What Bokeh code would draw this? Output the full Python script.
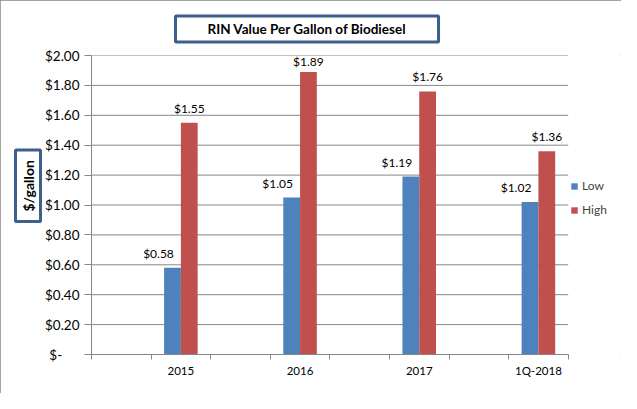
import numpy as np
from bokeh.plotting import figure
from bokeh.models import (FixedTicker, Legend, LegendItem, Title,
                          ColumnDataSource, Range1d)
from bokeh.core.properties import value
from bokeh.embed import file_html
from bokeh.resources import INLINE

# ---- data ----
categories = ["2015", "2016", "2017", "1Q-2018"]
low = [0.58, 1.05, 1.19, 1.02]
high = [1.55, 1.89, 1.76, 1.36]
y_ticks = [0.0, 0.2, 0.4, 0.6, 0.8, 1.0, 1.2, 1.4, 1.6, 1.8, 2.0]
y_tick_labels = ["$-" + "\u00a0" * 5, "$0.20", "$0.40", "$0.60", "$0.80", "$1.00",
                 "$1.20", "$1.40", "$1.60", "$1.80", "$2.00"]
title_text = "RIN Value Per Gallon of Biodiesel"
y_title = "$/gallon"

FONT = "Lato"
BLUE = "#4F81BD"
RED = "#C0504D"
GRID = "#868686"
BOXC = "#3C5F8C"

# ---- layout ----
W, H = 621, 393
FL, FR, FT, FB = 84, 567, 55, 354   # plot-area edges in figure px
Y_MAX = 2.0
n_slots = 2 * len(categories)
slot_px = (FR - FL) / n_slots
px_per_unit = (FB - FT) / Y_MAX
bar_w = 17 / slot_px
x_end = n_slots * (W - FL) / (FR - FL)   # frame runs to the right edge (legend area)

centers = [2 * i + 1.5 for i in range(len(categories))]
x_low = [c - bar_w / 2 for c in centers]
x_high = [c + bar_w / 2 for c in centers]


def label_offset(v):
    # keep the value label inside the plot area when the bar is near the top
    room = (Y_MAX - v) * px_per_unit - 13
    return -max(2.0, min(7.0, room))


src = ColumnDataSource(dict(
    x_low=x_low, x_high=x_high, low=low, high=high,
    low_off=[label_offset(v) for v in low], high_off=[label_offset(v) for v in high],
    low_txt=["$%.2f" % v for v in low], high_txt=["$%.2f" % v for v in high]))

p = figure(width=W, height=H, output_backend="svg", toolbar_location=None,
           x_range=Range1d(0, x_end), y_range=Range1d(0, Y_MAX),
           min_border_left=FL, min_border_right=0,
           min_border_top=FT, min_border_bottom=H - FB,
           background_fill_color="white", border_fill_color="white")
p.outline_line_color = None
p.styles = {"outline": "1px solid #868686", "outline-offset": "-1px"}

# horizontal gridlines limited to the plot area
p.xgrid.grid_line_color = None
p.ygrid.grid_line_color = None
p.segment(x0=[0] * len(y_ticks), x1=[n_slots] * len(y_ticks), y0=y_ticks, y1=y_ticks,
          line_color=GRID, line_width=1, level="underlay")

# y axis
p.yaxis.ticker = FixedTicker(ticks=y_ticks)
p.yaxis.major_label_overrides = {t: l for t, l in zip(y_ticks, y_tick_labels)}
p.yaxis.axis_line_color = GRID
p.yaxis.major_tick_line_color = GRID
p.yaxis.major_tick_out = 7
p.yaxis.major_tick_in = 0
p.yaxis.minor_tick_line_color = None
p.yaxis.major_label_standoff = 5
p.yaxis.major_label_text_font = FONT
p.yaxis.major_label_text_font_size = "13.5px"
p.yaxis.major_label_text_color = "black"

# x axis
p.xaxis.bounds = (0, n_slots)
p.xaxis.ticker = FixedTicker(ticks=centers, minor_ticks=list(range(n_slots + 1)))
p.xaxis.major_label_overrides = {c: l for c, l in zip(centers, categories)}
p.xaxis.axis_line_color = GRID
p.xaxis.major_tick_line_color = None
p.xaxis.major_tick_out = 0
p.xaxis.major_tick_in = 0
p.xaxis.minor_tick_line_color = GRID
p.xaxis.minor_tick_out = 5
p.xaxis.minor_tick_in = 0
p.xaxis.major_label_standoff = 4
p.xaxis.major_label_text_font = FONT
p.xaxis.major_label_text_font_size = "11.5px"
p.xaxis.major_label_text_color = "black"

# bars
r_low = p.vbar(x="x_low", top="low", width=bar_w, bottom=0, source=src,
               fill_color=BLUE, line_color=None)
r_high = p.vbar(x="x_high", top="high", width=bar_w, bottom=0, source=src,
                fill_color=RED, line_color=None)

# value labels
p.text(x="x_low", y="low", text="low_txt", source=src, x_offset=-14, y_offset="low_off",
       text_align="center", text_baseline="bottom", text_font=value(FONT),
       text_font_size="12px", text_color="black")
p.text(x="x_high", y="high", text="high_txt", source=src, y_offset="high_off",
       text_align="center", text_baseline="bottom", text_font=value(FONT),
       text_font_size="12px", text_color="black")

# legend (inside the frame's right-hand strip)
legend = Legend(items=[LegendItem(label="Low", renderers=[r_low]),
                       LegendItem(label="High", renderers=[r_high])],
                location=(FR - FL - 4, FB - 219.5), orientation="vertical",
                glyph_width=8, glyph_height=8, label_standoff=4, spacing=4,
                label_height=20, padding=0, margin=0,
                border_line_color=None, background_fill_alpha=0,
                label_text_font=FONT, label_text_font_size="12px")
p.add_layout(legend, "center")

# title box
p.add_layout(Title(text=title_text, align="left", offset=84, standoff=27,
                   text_font=FONT, text_font_style="bold", text_font_size="13.5px",
                   text_color="black",
                   border_line_color=BOXC, border_line_width=3,
                   background_fill_color="white",
                   padding=dict(left=32, right=32, top=5, bottom=5)), "above")

# y title box
p.add_layout(Title(text=y_title, align="left", offset=133, standoff=2,
                   text_font=FONT, text_font_style="bold", text_font_size="14px",
                   text_color="black",
                   border_line_color=BOXC, border_line_width=3,
                   background_fill_color="white",
                   padding=dict(left=10, right=10, top=4, bottom=4)), "left")

open("out.html", "w").write(file_html(p, INLINE))
